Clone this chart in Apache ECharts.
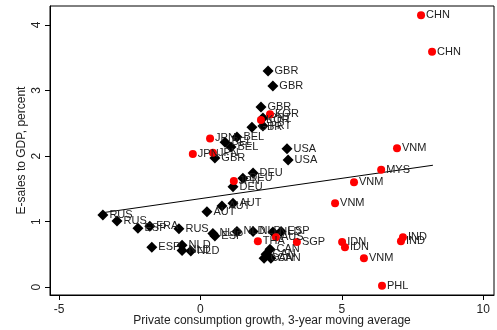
<!DOCTYPE html>
<html><head><meta charset="utf-8">
<script src="https://cdn.jsdelivr.net/npm/echarts@6/dist/echarts.min.js"></script>
<style>html,body{margin:0;padding:0;background:#fff}#c{width:497px;height:330px}</style>
</head><body><div id="c"></div>
<script>
// Advanced economies (black diamonds)
var advLabels = ['GBR','GBR','GBR','PRT','GBR','PRT','BEL','BEL','BEL','GBR','USA','USA','DEU','DEU','DEU','AUT','AUT','AUT','RUS','RUS','ESP','FRA','RUS','ESP','NLD','NLD','NLD','NLD','ESP','NLD','NLD','NLD','ESP','CAN','CAN','CAN','CAN'];
var advX = [2.39,2.56,2.14,2.21,1.82,2.21,1.29,0.87,1.08,0.51,3.06,3.10,1.86,1.50,1.15,1.15,0.76,0.23,-3.45,-2.95,-2.21,-1.79,-0.76,-1.72,-0.65,-0.65,-0.34,0.44,0.51,1.29,1.86,2.56,2.85,2.46,2.32,2.25,2.49];
var advY = [3.30,3.07,2.75,2.58,2.44,2.46,2.29,2.21,2.14,1.97,2.11,1.94,1.74,1.66,1.53,1.28,1.24,1.15,1.10,1.01,0.90,0.93,0.89,0.61,0.64,0.56,0.55,0.82,0.78,0.85,0.85,0.84,0.85,0.58,0.50,0.44,0.44];
// Asian economies (red circles)
var asiaLabels = ['CHN','CHN','KOR','KOR','JPN','JPN','JPN','JPN','VNM','MYS','VNM','VNM','IDN','IDN','IND','IND','VNM','PHL','THA','AUS','SGP'];
var asiaX = [7.80,8.19,2.46,2.14,0.34,-0.27,0.44,1.18,6.95,6.39,5.43,4.76,5.01,5.11,7.16,7.09,5.78,6.42,2.03,2.67,3.41];
var asiaY = [4.15,3.59,2.64,2.55,2.27,2.03,2.05,1.62,2.12,1.79,1.60,1.28,0.69,0.61,0.76,0.70,0.44,0.02,0.70,0.76,0.69];
// Fitted line
var fitX = [-3.55, 8.22];
var fitY = [1.13, 1.86];
var xTicks = [-5, 0, 5, 10];
var yTicks = [0, 1, 2, 3, 4];

function pts(xs, ys, names){ return xs.map(function(x,i){ return {name: names ? names[i] : '', value:[x, ys[i]]}; }); }

var lbl = {show:true, position:'right', distance:1, formatter:'{b}', color:'#222', fontSize:11, fontFamily:'Liberation Sans'};
var chart = echarts.init(document.getElementById('c'), null, {renderer:'canvas'});
chart.setOption({
  animation:false,
  grid:{left:50, right:3, top:6, bottom:35, show:true, borderColor:'#000', borderWidth:1, containLabel:false, outerBoundsMode:'none'},
  xAxis:{type:'value', min:-5.32, max:10.38,
    name:'Private consumption growth, 3-year moving average', nameLocation:'middle', nameGap:20, nameMoveOverlap:false,
    nameTextStyle:{fontSize:12, color:'#222', fontFamily:'Liberation Sans'},
    axisLine:{show:true, onZero:false, lineStyle:{color:'#000'}},
    axisTick:{show:true, length:5, lineStyle:{color:'#000'}, customValues:xTicks},
    axisLabel:{fontSize:12, color:'#222', margin:9, fontFamily:'Liberation Sans', customValues:xTicks},
    splitLine:{show:false}},
  yAxis:{type:'value', min:-0.12, max:4.29,
    name:'E-sales to GDP, percent', nameLocation:'middle', nameGap:22, nameMoveOverlap:false,
    nameTextStyle:{fontSize:12, color:'#222', fontFamily:'Liberation Sans'},
    axisLine:{show:true, onZero:false, lineStyle:{color:'#000'}},
    axisTick:{show:true, length:5, lineStyle:{color:'#000'}, customValues:yTicks},
    axisLabel:{fontSize:12, color:'#222', margin:7, rotate:90, fontFamily:'Liberation Sans', customValues:yTicks},
    splitLine:{show:false}},
  series:[
    {type:'line', data:pts(fitX, fitY), symbol:'none', lineStyle:{color:'#000', width:1}, silent:true, z:1},
    {type:'scatter', data:pts(advX, advY, advLabels), symbol:'diamond', symbolSize:11, itemStyle:{color:'#000', opacity:1}, label:lbl, z:2},
    {type:'scatter', data:pts(asiaX, asiaY, asiaLabels), symbol:'circle', symbolSize:8, itemStyle:{color:'#ff0000', opacity:1}, label:lbl, z:3}
  ]
});
</script></body></html>
